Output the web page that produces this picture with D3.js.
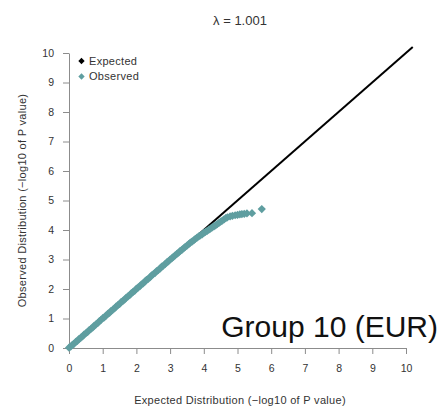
<!DOCTYPE html>
<html>
<head>
<meta charset="utf-8">
<script src="https://cdn.jsdelivr.net/npm/d3@7"></script>
<style>
  html, body { margin: 0; padding: 0; background: #fff; }
  svg { display: block; font-family: "Liberation Sans", Arial, Helvetica, sans-serif; }
</style>
</head>
<body>
<svg id="chart" width="443" height="409"></svg>
<script>
// QQ plot data: expected vs observed -log10(P)
const expected = [
  0.00, 0.05, 0.10, 0.15, 0.20, 0.25, 0.30, 0.35, 0.40, 0.45,
  0.50, 0.55, 0.60, 0.65, 0.70, 0.75, 0.80, 0.85, 0.90, 0.95,
  1.00, 1.05, 1.10, 1.15, 1.20, 1.25, 1.30, 1.35, 1.40, 1.45,
  1.50, 1.55, 1.60, 1.65, 1.70, 1.75, 1.80, 1.85, 1.90, 1.95,
  2.00, 2.05, 2.10, 2.15, 2.20, 2.25, 2.30, 2.35, 2.40, 2.45,
  2.50, 2.55, 2.60, 2.65, 2.70, 2.75, 2.80, 2.85, 2.90, 2.95,
  3.00, 3.05, 3.10, 3.15, 3.20, 3.25, 3.30, 3.35, 3.40, 3.45,
  3.50, 3.55, 3.60, 3.65, 3.70, 3.75, 3.80, 3.85, 3.90, 3.95,
  4.00, 4.05, 4.10, 4.15, 4.20, 4.25, 4.30, 4.35, 4.40, 4.45,
  4.50, 4.55, 4.60, 4.65, 4.70, 4.78, 4.85, 4.93, 5.00, 5.07,
  5.13, 5.20, 5.28, 5.43, 5.72
];
const observed = [
  0.01, 0.05, 0.11, 0.14, 0.21, 0.24, 0.31, 0.35, 0.39, 0.46,
  0.50, 0.54, 0.61, 0.65, 0.69, 0.76, 0.80, 0.84, 0.91, 0.95,
  1.01, 1.04, 1.10, 1.16, 1.19, 1.26, 1.30, 1.34, 1.41, 1.45,
  1.49, 1.56, 1.60, 1.64, 1.71, 1.75, 1.79, 1.86, 1.90, 1.94,
  2.01, 2.05, 2.09, 2.16, 2.19, 2.25, 2.31, 2.34, 2.39, 2.46,
  2.50, 2.54, 2.61, 2.64, 2.69, 2.76, 2.79, 2.84, 2.90, 2.94,
  3.00, 3.04, 3.09, 3.14, 3.19, 3.23, 3.29, 3.33, 3.38, 3.43,
  3.47, 3.52, 3.57, 3.61, 3.65, 3.70, 3.74, 3.78, 3.82, 3.85,
  3.90, 3.94, 3.97, 4.01, 4.05, 4.09, 4.12, 4.16, 4.20, 4.24,
  4.28, 4.32, 4.36, 4.40, 4.43, 4.46, 4.48, 4.50, 4.51, 4.53,
  4.54, 4.55, 4.56, 4.57, 4.71
];
const axisTicks = [0, 1, 2, 3, 4, 5, 6, 7, 8, 9, 10];
const legendLabels = ["Expected", "Observed"];
const lambdaLabel = "λ = 1.001";
const groupLabel = "Group 10 (EUR)";
const xTitle = "Expected Distribution (\u2212log10 of P value)";
const yTitle = "Observed Distribution (\u2212log10 of P value)";
const nullLineEnd = 10.2;

const teal = "#5f9ea0";
const axisGrey = "#8c8c8c";
const textGrey = "#333";

const svg = d3.select("#chart");
const x = d3.scaleLinear().domain([0, 10]).range([69, 406]);
const y = d3.scaleLinear().domain([0, 10]).range([348, 53]);

// filled diamond marker
const diamond = {
  draw(ctx, size) {
    const r = Math.sqrt(size / 2);
    ctx.moveTo(0, -r); ctx.lineTo(r, 0); ctx.lineTo(0, r); ctx.lineTo(-r, 0); ctx.closePath();
  }
};

// axes
const xAxis = d3.axisBottom(x).tickValues(axisTicks).tickSize(6).tickPadding(11).tickSizeOuter(0);
const yAxis = d3.axisLeft(y).tickValues(axisTicks).tickSize(6).tickPadding(9).tickSizeOuter(0);

const gx = svg.append("g").attr("transform", `translate(0,${y(0)})`).call(xAxis);
const gy = svg.append("g").attr("transform", `translate(${x(0)},0)`).call(yAxis);
[gx, gy].forEach(g => {
  g.select(".domain").attr("stroke", axisGrey).attr("stroke-width", 1);
  g.selectAll(".tick line").attr("stroke", axisGrey).attr("stroke-width", 1);
  g.selectAll(".tick text").attr("fill", textGrey).style("font-size", "10.5px")
    .style("font-family", "'Liberation Sans', Arial, sans-serif");
});

// null line y = x
svg.append("line")
  .attr("x1", x(0)).attr("y1", y(0))
  .attr("x2", x(nullLineEnd)).attr("y2", y(nullLineEnd))
  .attr("stroke", "#000").attr("stroke-width", 2);

// observed points
const sym = d3.symbol().type(diamond).size(34);
svg.append("g").selectAll("path")
  .data(expected.map((e, i) => [e, observed[i]]))
  .join("path")
  .attr("transform", d => `translate(${x(d[0])},${y(d[1])})`)
  .attr("d", sym)
  .attr("fill", teal);

// legend
const legendColors = ["#000", teal];
const lg = svg.append("g");
legendLabels.forEach((lab, i) => {
  const ly = 61 + i * 15.5;
  lg.append("path").attr("transform", `translate(81.5,${ly})`)
    .attr("d", d3.symbol().type(diamond).size(20)).attr("fill", legendColors[i]);
  lg.append("text").attr("x", 89).attr("y", ly).attr("dy", "0.35em")
    .attr("fill", textGrey).style("font-size", "11px").style("letter-spacing", "0.3px").text(lab);
});

// titles
svg.append("text").attr("x", 240).attr("y", 20).attr("dy", "0.35em")
  .attr("text-anchor", "middle").attr("fill", textGrey).style("font-size", "13px").text(lambdaLabel);

svg.append("text").attr("x", 240).attr("y", 400).attr("dy", "0.35em")
  .attr("text-anchor", "middle").attr("fill", textGrey).style("font-size", "11px")
  .style("letter-spacing", "0.3px").text(xTitle);

svg.append("text").attr("transform", `translate(22,${(y(0) + y(10)) / 2}) rotate(-90)`)
  .attr("dy", "0.35em").attr("text-anchor", "middle").attr("fill", textGrey)
  .style("font-size", "11px").style("letter-spacing", "0.3px").text(yTitle);

svg.append("text").attr("x", 438).attr("y", 337)
  .attr("text-anchor", "end").attr("fill", "#111").style("font-size", "30px").text(groupLabel);
</script>
</body>
</html>
